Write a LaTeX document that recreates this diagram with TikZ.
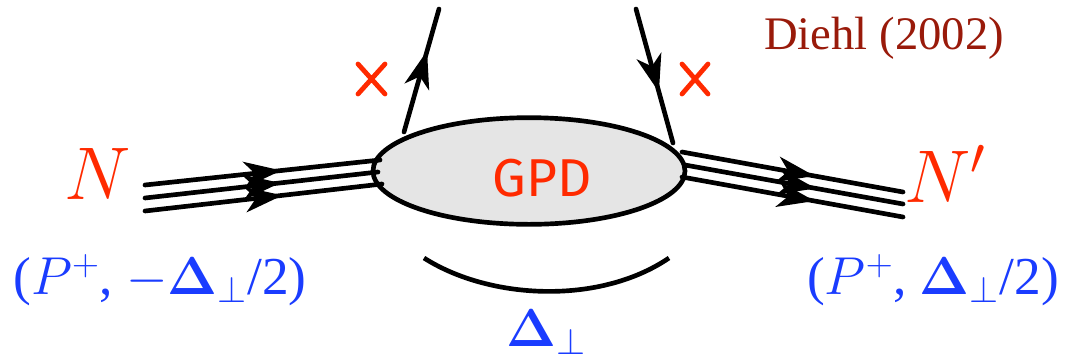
\RequirePackage{fix-cm}
\documentclass[tikz,border=0pt]{standalone}
\usepackage[no-math]{fontspec}
\setmainfont{Liberation Serif}
\newfontfamily\gpdfont{Fira Sans}
\usetikzlibrary{arrows.meta,decorations.markings,shapes.geometric}
\definecolor{nred}{HTML}{FF2A00}
\definecolor{lblue}{HTML}{1A3CFF}
\definecolor{dred}{HTML}{991A0A}
\tikzset{
  x=0.75pt,y=-0.75pt,
  prop/.style={line width=3.5pt,line cap=round},
  midarrow/.style={postaction={decorate},decoration={markings,
    mark=at position #1 with {\arrow{Stealth[length=28pt,width=19pt,inset=8pt]}}}},
  cross/.style={nred,line width=3.6pt,line cap=round},
  blob/.style={ellipse,draw,line width=3.5pt,fill=black!10,minimum width=234pt,minimum height=80pt,inner sep=0pt},
  big/.style={font=\fontsize{56}{60}\selectfont},
  lab/.style={lblue,font=\fontsize{40}{46}\selectfont},
}
\begin{document}
\begin{tikzpicture}
\useasboundingbox (0,0) rectangle (1068,358);
% blob
\node[blob] (gpd) at (529,171) {};
\node[nred,font=\gpdfont\fontsize{40}{44}\selectfont] (gpdt) at (542,178) {GPD};
% left incoming triple line
\coordinate (l1a) at (145,185); \coordinate (l1b) at (380,160);
\coordinate (l2a) at (145,198); \coordinate (l2b) at (378,172);
\coordinate (l3a) at (145,211); \coordinate (l3b) at (382,184);
\draw[prop,midarrow=0.58] (l1a) -- (l1b);
\draw[prop,midarrow=0.58] (l2a) -- (l2b);
\draw[prop,midarrow=0.58] (l3a) -- (l3b);
% right outgoing triple line
\coordinate (r1a) at (682,152); \coordinate (r1b) at (903,192);
\coordinate (r2a) at (685,165); \coordinate (r2b) at (903,204);
\coordinate (r3a) at (682,177); \coordinate (r3b) at (903,217);
\draw[prop,midarrow=0.6] (r1a) -- (r1b);
\draw[prop,midarrow=0.6] (r2a) -- (r2b);
\draw[prop,midarrow=0.6] (r3a) -- (r3b);
% quark lines
\coordinate (ql) at (404,132); \coordinate (qlt) at (439,9);
\coordinate (qr) at (673,143); \coordinate (qrt) at (636,9);
\draw[prop,midarrow=0.66] (ql) -- (qlt);
\draw[prop,midarrow=0.62] (qrt) -- (qr);
% crosses
\draw[cross] (358,64) -- (385,94) (385,64) -- (358,94);
\draw[cross] (682,64) -- (708,94) (708,64) -- (682,94);
% nucleon labels
\node[nred,big] (N) at (98,174) {$N$};
\node[nred,big] (Np) at (945,174) {$N'$};
\node[lab] (kl) at (160,280) {($P^{+}$, $-\mathbf{\Delta}_{\perp}$/2)};
\node[lab] (kr) at (933,280) {($P^{+}$, $\mathbf{\Delta}_{\perp}$/2)};
% momentum transfer arc
\coordinate (al) at (424,258); \coordinate (ar) at (669,258);
\draw[line width=3.5pt] (al) .. controls (490,300) and (600,305) .. (ar);
\node[lab] (dl) at (546,332) {$\mathbf{\Delta}_{\perp}$};
\node[dred,font=\fontsize{35}{40}\selectfont] (ref) at (884,38) {Diehl (2002)};
\end{tikzpicture}
\end{document}
